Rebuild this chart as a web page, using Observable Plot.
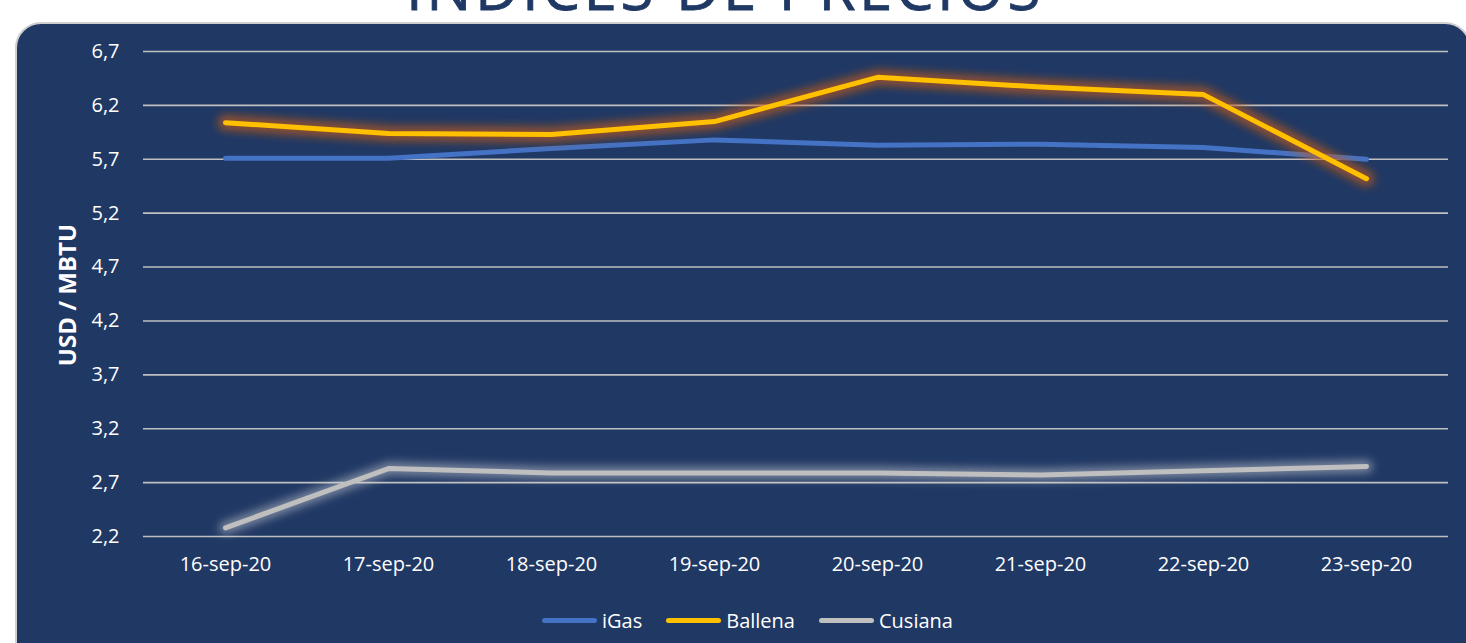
<!DOCTYPE html>
<html>
<head>
<meta charset="utf-8">
<script src="https://cdn.jsdelivr.net/npm/d3@7"></script>
<script src="https://cdn.jsdelivr.net/npm/@observablehq/plot@0.6"></script>
<style>
  html, body { margin: 0; padding: 0; background: #ffffff; width: 1466px; height: 643px; overflow: hidden; position: relative; font-family: "Open Sans", sans-serif; }
  #title { position: absolute; left: 0; width: 1450px; top: -43px; text-align: center; font-size: 60px; line-height: 1; color: #1f3864; letter-spacing: 3.5px; white-space: nowrap; -webkit-text-stroke: 0.8px #1f3864; }
  #panel { position: absolute; left: 15px; top: 22px; width: 1456px; height: 660px; background: #203864; border: 2px solid #cfcfcf; border-radius: 26px; box-sizing: border-box; }
  #chart { position: absolute; left: 0; top: 0; }
  #ylabel { position: absolute; left: 66px; top: 295px; transform: translate(-50%, -50%) rotate(-90deg); color: #ffffff; font-weight: 700; font-size: 24px; white-space: nowrap; }
  #legend { position: absolute; left: 542px; top: 606px; height: 28px; display: flex; align-items: center; color: #ffffff; font-size: 20px; }
  .item { display: flex; align-items: center; margin-right: 24px; }
  .swatch { width: 55px; height: 5px; border-radius: 3px; margin-right: 5px; }
</style>
</head>
<body>
<div id="title">INDICES DE PRECIOS</div>
<div id="panel"></div>
<div id="chart"></div>
<div id="ylabel">USD / MBTU</div>
<div id="legend"></div>
<script>
const dates = ["16-sep-20", "17-sep-20", "18-sep-20", "19-sep-20", "20-sep-20", "21-sep-20", "22-sep-20", "23-sep-20"];
const igas = [5.71, 5.71, 5.80, 5.88, 5.83, 5.84, 5.81, 5.70];
const ballena = [6.04, 5.94, 5.93, 6.05, 6.46, 6.37, 6.30, 5.52];
const cusiana = [2.28, 2.83, 2.79, 2.79, 2.79, 2.77, 2.81, 2.85];
const yTicks = [2.2, 2.7, 3.2, 3.7, 4.2, 4.7, 5.2, 5.7, 6.2, 6.7];
const seriesNames = ["iGas", "Ballena", "Cusiana"];
const seriesColors = ["#4472c4", "#ffc000", "#bfbfbf"];
const glowColors = ["#c55a11", "#e0e0e0"];

const rows = (vals) => dates.map((d, i) => ({date: d, value: vals[i]}));
const dIgas = rows(igas), dBallena = rows(ballena), dCusiana = rows(cusiana);
const fmt = (d) => d.toFixed(1).replace(".", ",");

const chart = Plot.plot({
  width: 1466,
  height: 600,
  marginLeft: 143,
  marginRight: 18,
  marginTop: 51,
  marginBottom: 64,
  style: {background: "transparent", color: "#ffffff", fontFamily: "Open Sans, sans-serif", fontSize: "20px"},
  x: {type: "point", domain: dates, padding: 0.5},
  y: {domain: [2.2, 6.7]},
  marks: [
    Plot.ruleY(yTicks, {stroke: "#bfbfbf", strokeWidth: 1.6}),
    Plot.axisY(yTicks, {tickSize: 0, tickPadding: 24, tickFormat: fmt, label: null, fill: "#ffffff", fontSize: 20}),
    Plot.axisX({tickSize: 0, tickPadding: 20, label: null, fill: "#ffffff", fontSize: 20}),
    Plot.line(dIgas, {x: "date", y: "value", stroke: seriesColors[0], strokeWidth: 5, strokeLinecap: "round", strokeLinejoin: "round"}),
    Plot.line(dBallena, {x: "date", y: "value", stroke: glowColors[0], strokeWidth: 16, strokeOpacity: 0.65, strokeLinecap: "round", strokeLinejoin: "round"}),
    Plot.line(dBallena, {x: "date", y: "value", stroke: seriesColors[1], strokeWidth: 5, strokeLinecap: "round", strokeLinejoin: "round"}),
    Plot.line(dCusiana, {x: "date", y: "value", stroke: glowColors[1], strokeWidth: 13, strokeOpacity: 0.45, strokeLinecap: "round", strokeLinejoin: "round"}),
    Plot.line(dCusiana, {x: "date", y: "value", stroke: seriesColors[2], strokeWidth: 5, strokeLinecap: "round", strokeLinejoin: "round"})
  ]
});

const svg = d3.select(chart);
const defs = svg.insert("defs", ":first-child");
defs.append("filter").attr("id", "glow").attr("filterUnits", "userSpaceOnUse")
  .attr("x", 0).attr("y", 0).attr("width", 1466).attr("height", 600)
  .append("feGaussianBlur").attr("stdDeviation", 4);
svg.selectAll("g").filter(function() {
  const s = this.getAttribute("stroke");
  return s === glowColors[0] || s === glowColors[1];
}).attr("filter", "url(#glow)");
svg.selectAll("path").filter(function() {
  const s = this.getAttribute("stroke");
  return s === glowColors[0] || s === glowColors[1];
}).attr("filter", "url(#glow)");

document.getElementById("chart").appendChild(chart);

const legend = d3.select("#legend");
seriesNames.forEach((name, i) => {
  const it = legend.append("div").attr("class", "item");
  it.append("div").attr("class", "swatch").style("background", seriesColors[i]);
  it.append("span").text(name);
});
</script>
</body>
</html>
